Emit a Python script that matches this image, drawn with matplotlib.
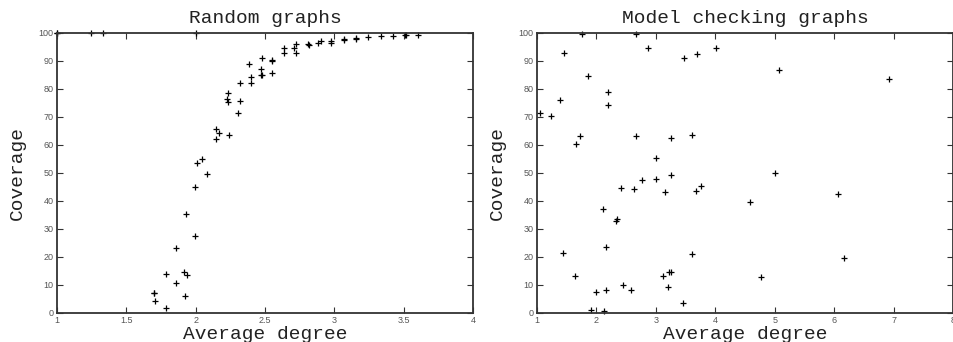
import matplotlib
matplotlib.use("Agg")
import matplotlib.pyplot as plt

# Random graphs: (average degree, coverage)
rand_deg = [1.0, 1.0, 1.248, 1.33, 2.0,
            1.697, 1.699, 1.707, 1.784, 1.784, 1.861, 1.861, 1.916, 1.935, 1.925,
            1.930, 1.995, 1.998, 2.01, 2.048, 2.079, 2.149, 2.166, 2.147,
            2.236, 2.228, 2.233, 2.238, 2.305, 2.32, 2.32, 2.387, 2.397, 2.397,
            2.476, 2.471, 2.469, 2.478, 2.548, 2.553, 2.553, 2.637, 2.637,
            2.707, 2.726, 2.724, 2.808, 2.82, 2.885, 2.904, 2.978, 2.978,
            3.067, 3.07, 3.156, 3.158, 3.243, 3.339, 3.423, 3.51, 3.52, 3.606]
rand_cov = [100, 100, 100, 100, 100,
            7.1, 7.3, 4.4, 13.8, 1.9, 23.2, 10.7, 14.5, 13.7, 6.1,
            35.5, 45.0, 27.4, 53.7, 54.9, 49.8, 65.7, 64.4, 62.1,
            78.7, 76.4, 75.4, 63.7, 71.5, 75.7, 82.0, 88.9, 84.2, 82.3,
            91.2, 87.0, 85.0, 85.1, 90.2, 90.0, 85.7, 94.5, 93.0,
            94.6, 96.2, 92.9, 96.2, 95.8, 96.5, 97.0, 97.1, 96.5,
            97.7, 97.5, 97.9, 98.3, 98.5, 98.8, 98.9, 99.2, 99.3, 99.3]

# Model checking graphs: (average degree, coverage)
mc_deg = [1.056, 1.236, 1.381, 1.46, 1.437, 1.639, 1.662, 1.729, 1.757, 1.864,
          1.909, 1.998, 2.12, 2.116, 2.161, 2.161, 2.195, 2.2, 2.335, 2.346,
          2.419, 2.441, 2.582, 2.632, 2.671, 2.671, 2.767, 2.868, 3.002, 3.002,
          3.126, 3.154, 3.2, 3.215, 3.26, 3.249, 3.26, 3.451, 3.468, 3.602,
          3.608, 3.67, 3.692, 3.754, 4.006, 4.589, 4.763, 5.01, 5.072, 6.065,
          6.16, 6.928]
mc_cov = [71.5, 70.4, 76.0, 92.9, 21.3, 13.3, 60.2, 63.2, 99.6, 84.8,
          1.0, 7.6, 0.6, 37.3, 8.1, 23.5, 78.8, 74.3, 33.0, 33.7,
          44.8, 9.9, 8.1, 44.4, 99.6, 63.2, 47.4, 94.8, 55.5, 47.7,
          13.2, 43.1, 9.4, 14.6, 14.6, 62.5, 49.2, 3.6, 91.0, 21.2,
          63.5, 43.5, 92.6, 45.5, 94.8, 39.6, 13.0, 50.1, 86.9, 42.6,
          19.8, 83.6]

rand_xticks = [1, 1.5, 2, 2.5, 3, 3.5, 4]
rand_xlabels = ["1", "1.5", "2", "2.5", "3", "3.5", "4"]
mc_xticks = [1, 2, 3, 4, 5, 6, 7, 8]
yticks = list(range(0, 101, 10))

mono = "Liberation Mono"

fig = plt.figure(figsize=(9.54, 3.42), dpi=100)
ax1 = fig.add_axes([57 / 954, 29 / 342, 416 / 954, 280 / 342])
ax2 = fig.add_axes([537 / 954, 29 / 342, 416 / 954, 280 / 342])


def style(ax, xs, ys, xlim, xticks, xlabels, title):
    ax.plot(xs, ys, "+", color="black", markersize=5, markeredgewidth=0.9,
            clip_on=False)
    ax.set_xlim(*xlim)
    ax.set_ylim(0, 100)
    ax.set_xticks(xticks)
    ax.set_xticklabels(xlabels)
    ax.set_yticks(yticks)
    ax.tick_params(direction="in", length=4, width=0.8, top=True, right=True,
                   labelsize=6.5, labelcolor="#555555", pad=2.5, color="#333333")
    for lab in ax.get_xticklabels() + ax.get_yticklabels():
        lab.set_family("Liberation Sans")
    for s in ax.spines.values():
        s.set_linewidth(1.3)
        s.set_color("#333333")
    ax.set_title(title, family=mono, fontsize=14, pad=7, color="#222222")
    ax.set_xlabel("Average degree", family=mono, fontsize=14, labelpad=0.5,
                  color="#222222")
    ax.set_ylabel("Coverage", family=mono, fontsize=14, labelpad=9,
                  color="#222222")


style(ax1, rand_deg, rand_cov, (1, 4), rand_xticks, rand_xlabels, "Random graphs")
style(ax2, mc_deg, mc_cov, (1, 8), mc_xticks, [str(t) for t in mc_xticks],
      "Model checking graphs")

fig.savefig("out.png", dpi=100)
